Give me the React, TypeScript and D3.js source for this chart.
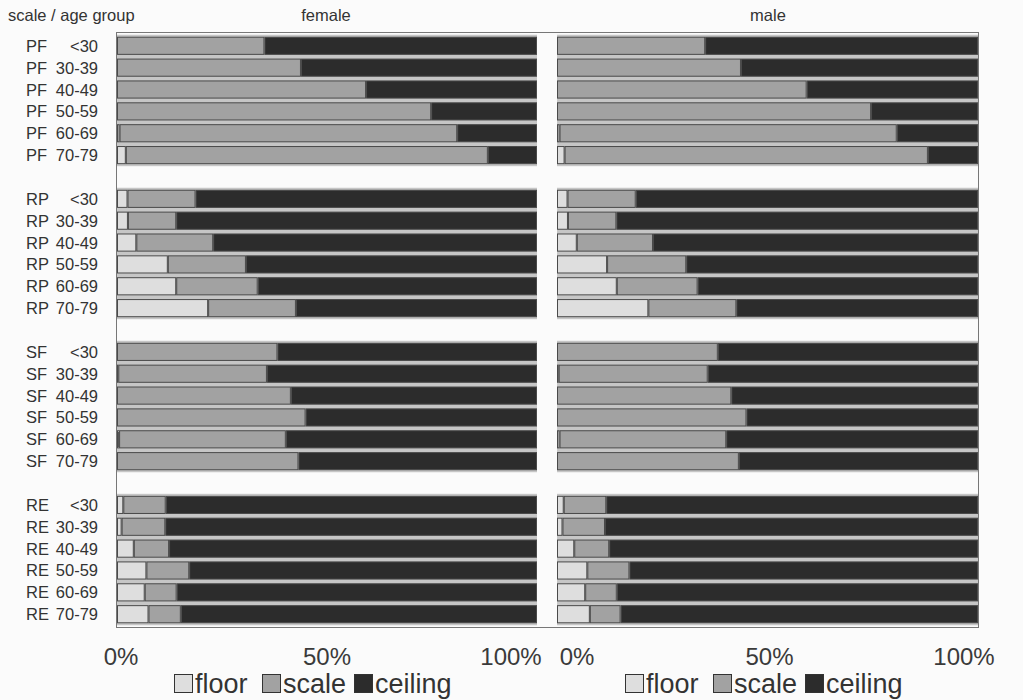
import React from "react";
import * as d3 from "d3";

// scales (SF-36 subscales) and age groups
const scales = ["PF", "RP", "SF", "RE"];
const ageGroups = ["<30", "30-39", "40-49", "50-59", "60-69", "70-79"];
const parts = ["floor", "scale", "ceiling"];
const ticks = [0, 0.5, 1];

// percentages per row, order: PF x6, RP x6, SF x6, RE x6
const femaleFloor = [0, 0, 0, 0, 0.6, 2.1, 2.5, 2.6, 4.6, 12.1, 14.1, 21.7, 0, 0.3, 0, 0, 0.5, 0, 1.5, 1.1, 4.0, 7.0, 6.6, 7.5];
const femaleScale = [35.1, 43.8, 59.3, 74.8, 80.4, 86.2, 16.2, 11.5, 18.3, 18.6, 19.4, 20.9, 38.2, 35.4, 41.4, 44.9, 39.7, 43.2, 10.1, 10.4, 8.4, 10.2, 7.6, 7.7];
const femaleCeiling = [64.9, 56.2, 40.7, 25.2, 19.0, 11.7, 81.3, 85.9, 77.1, 69.3, 66.5, 57.4, 61.8, 64.3, 58.6, 55.1, 59.8, 56.8, 88.4, 88.5, 87.6, 82.8, 85.8, 84.8];

const maleFloor = [0, 0, 0, 0, 0.6, 1.8, 2.5, 2.6, 4.7, 11.9, 14.2, 21.7, 0, 0.4, 0, 0, 0.6, 0, 1.6, 1.3, 4.1, 7.2, 6.7, 7.8];
const maleScale = [35.2, 43.7, 59.3, 74.6, 80.1, 86.3, 16.2, 11.5, 18.1, 18.8, 19.2, 20.9, 38.2, 35.4, 41.4, 45.0, 39.6, 43.2, 10.1, 10.1, 8.3, 10.0, 7.5, 7.3];
const maleCeiling = [64.8, 56.3, 40.7, 25.4, 19.3, 11.9, 81.3, 85.9, 77.2, 69.3, 66.6, 57.4, 61.8, 64.2, 58.6, 55.0, 59.8, 56.8, 88.3, 88.6, 87.6, 82.8, 85.8, 84.9];

const colors: Record<string, string> = {
  floor: "#dedede",
  scale: "#a2a2a2",
  ceiling: "#2c2c2c",
};

const W = 1023;
const H = 700;
const top = 33;
const bottom = 627;

const panels = [
  { name: "female", range: [117, 537], floor: femaleFloor, scale: femaleScale, ceiling: femaleCeiling, labelShift: [4, 0, -26], legendX: 174, titleX: 326 },
  { name: "male", range: [557, 978], floor: maleFloor, scale: maleScale, ceiling: maleCeiling, labelShift: [20, 2, -14], legendX: 625, titleX: 768 },
];

// row keys with an empty slot between scale groups
const rowKeys: string[] = [];
scales.forEach((s, si) => {
  ageGroups.forEach((a) => rowKeys.push(`${s} ${a}`));
  if (si < scales.length - 1) rowKeys.push(`gap${si}`);
});

const y = d3.scaleBand<string>().domain(rowKeys).range([top, bottom]).padding(0.17);

const font = "Arial, 'Liberation Sans', sans-serif";

export default function App() {
  const bw = y.bandwidth();
  return (
    <svg width={W} height={H} style={{ position: "absolute", left: 0, top: 0, background: "#fff" }} fontFamily={font}>
      <rect width={W} height={H} fill="#fbfbfb" />
      <text x={8} y={21} fontSize={16.5} fill="#333">scale / age group</text>

      {/* row labels */}
      {scales.map((s) =>
        ageGroups.map((a) => {
          const yy = (y(`${s} ${a}`) as number) + bw / 2 + 6;
          return (
            <g key={`${s}${a}`} fontSize={16.5} fill="#333">
              <text x={26} y={yy}>{s}</text>
              <text x={98} y={yy} textAnchor="end">{a}</text>
            </g>
          );
        })
      )}

      {panels.map((p) => {
        const x = d3.scaleLinear().domain([0, 1]).range(p.range);
        const fmt = d3.format(".0%");
        return (
          <g key={p.name}>
            <text x={p.titleX} y={21} fontSize={16.5} fill="#333" textAnchor="middle">
              {p.name}
            </text>

            {/* light strips behind each scale group */}
            {scales.map((s) => {
              const y0 = (y(`${s} ${ageGroups[0]}`) as number) - 2;
              const y1 = (y(`${s} ${ageGroups[ageGroups.length - 1]}`) as number) + bw + 2;
              return <rect key={s} x={x(0)} y={y0} width={x(1) - x(0)} height={y1 - y0} fill="#c6c6c6" />;
            })}

            {/* stacked bars */}
            {scales.map((s, si) =>
              ageGroups.map((a, ai) => {
                const i = si * ageGroups.length + ai;
                const vals = [p.floor[i], p.scale[i], p.ceiling[i]];
                let acc = 0;
                return parts.map((part, k) => {
                  const v = vals[k] / 100;
                  const x0 = x(acc);
                  acc += v;
                  const x1 = x(acc);
                  if (v <= 0) return null;
                  return (
                    <rect
                      key={`${s}${a}${part}`}
                      x={x0 + 0.5}
                      y={(y(`${s} ${a}`) as number) + 0.5}
                      width={Math.max(0, x1 - x0 - 1)}
                      height={bw - 1}
                      fill={colors[part]}
                      stroke="#4a4a4a"
                      strokeWidth={1}
                    />
                  );
                });
              })
            )}

            {/* x tick labels */}
            {ticks.map((t, ti) => (
              <text
                key={t}
                x={x(t) + p.labelShift[ti]}
                y={665}
                fontSize={24}
                fill="#3a3a3a"
                textAnchor="middle"
              >
                {fmt(t)}
              </text>
            ))}

            {/* legend */}
            {parts.map((part, k) => {
              const offsets = [0, 88, 180];
              const lx = p.legendX + offsets[k];
              return (
                <g key={part}>
                  <rect x={lx + 0.5} y={674.5} width={18} height={18} fill={colors[part]} stroke="#333" />
                  <text x={lx + 21} y={693} fontSize={27} fill="#333">{part}</text>
                </g>
              );
            })}
          </g>
        );
      })}

      {/* plot frame */}
      <rect x={116.5} y={top - 0.5} width={978 - 116} height={bottom - top + 1} fill="none" stroke="#777" />
    </svg>
  );
}
